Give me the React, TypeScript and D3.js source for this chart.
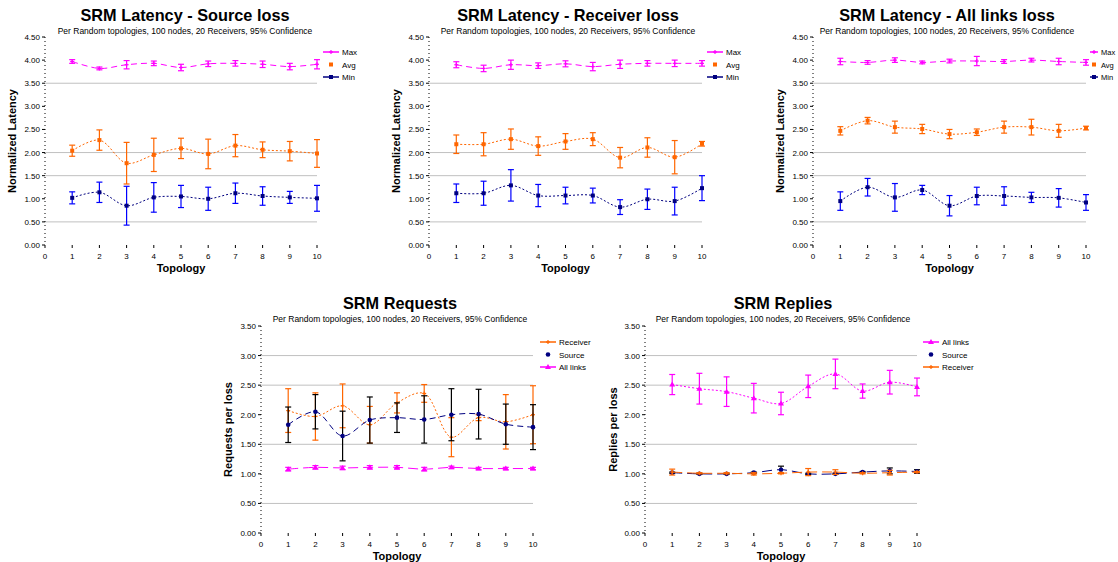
import React from 'react';
import * as d3 from 'd3';

// ---- shared ----
const topologies = [1, 2, 3, 4, 5, 6, 7, 8, 9, 10];
const xTickValues = [0, 1, 2, 3, 4, 5, 6, 7, 8, 9, 10];
const subtitleText = 'Per Random topologies, 100 nodes, 20 Receivers, 95% Confidence';

// ---- latency charts (y 0..4.5) ----
const latencyTicks = [0, 0.5, 1, 1.5, 2, 2.5, 3, 3.5, 4, 4.5];
const latencyGrid = [0.5, 1.5, 2, 3.5];
const latencyLegend = ['Max', 'Avg', 'Min'];

const srcMax = [3.97, 3.82, 3.9, 3.93, 3.84, 3.92, 3.93, 3.91, 3.86, 3.91];
const srcMaxErr = [0.04, 0.03, 0.09, 0.05, 0.07, 0.06, 0.06, 0.07, 0.07, 0.1];
const srcAvg = [2.04, 2.27, 1.77, 1.95, 2.09, 1.97, 2.15, 2.06, 2.03, 1.98];
const srcAvgErr = [0.12, 0.22, 0.45, 0.36, 0.22, 0.32, 0.24, 0.17, 0.21, 0.3];
const srcMin = [1.02, 1.14, 0.85, 1.03, 1.05, 1.0, 1.12, 1.06, 1.03, 1.01];
const srcMinErr = [0.13, 0.22, 0.42, 0.32, 0.24, 0.25, 0.22, 0.2, 0.13, 0.28];

const rcvMax = [3.9, 3.82, 3.9, 3.88, 3.92, 3.86, 3.91, 3.93, 3.93, 3.93];
const rcvMaxErr = [0.065, 0.07, 0.1, 0.06, 0.065, 0.09, 0.09, 0.06, 0.07, 0.06];
const rcvAvg = [2.18, 2.18, 2.29, 2.14, 2.24, 2.29, 1.89, 2.11, 1.9, 2.19];
const rcvAvgErr = [0.2, 0.25, 0.22, 0.2, 0.17, 0.14, 0.22, 0.21, 0.36, 0.05];
const rcvMin = [1.12, 1.12, 1.29, 1.07, 1.07, 1.07, 0.82, 0.99, 0.95, 1.23];
const rcvMinErr = [0.2, 0.26, 0.34, 0.24, 0.18, 0.16, 0.16, 0.22, 0.3, 0.27];

const allMax = [3.97, 3.95, 4.0, 3.95, 3.98, 3.98, 3.97, 4.0, 3.97, 3.95];
const allMaxErr = [0.07, 0.04, 0.05, 0.03, 0.04, 0.1, 0.04, 0.04, 0.07, 0.06];
const allAvg = [2.47, 2.69, 2.55, 2.51, 2.4, 2.44, 2.55, 2.55, 2.47, 2.53];
const allAvgErr = [0.09, 0.07, 0.13, 0.1, 0.1, 0.07, 0.13, 0.17, 0.14, 0.04];
const allMin = [0.95, 1.25, 1.03, 1.19, 0.85, 1.06, 1.06, 1.03, 1.02, 0.92];
const allMinErr = [0.2, 0.19, 0.3, 0.1, 0.22, 0.19, 0.2, 0.11, 0.2, 0.17];

// ---- per-loss charts (y 0..3.5) ----
const perLossTicks = [0, 0.5, 1, 1.5, 2, 2.5, 3, 3.5];
const perLossGrid = [0.5, 1.5, 2.5, 3];

const reqReceiver = [2.07, 1.97, 2.15, 1.83, 2.2, 2.36, 1.62, 1.95, 1.88, 2.0];
const reqReceiverErr = [0.37, 0.4, 0.37, 0.31, 0.17, 0.15, 0.33, 0.05, 0.46, 0.49];
const reqSource = [1.83, 2.05, 1.64, 1.91, 1.95, 1.92, 2.0, 2.01, 1.84, 1.79];
const reqSourceErr = [0.3, 0.29, 0.42, 0.39, 0.25, 0.4, 0.44, 0.42, 0.34, 0.38];
const reqAll = [1.08, 1.11, 1.1, 1.11, 1.11, 1.08, 1.11, 1.09, 1.09, 1.09];
const reqAllErr = [0.03, 0.03, 0.03, 0.03, 0.03, 0.03, 0.02, 0.02, 0.02, 0.02];

const repAll = [2.51, 2.44, 2.39, 2.28, 2.19, 2.48, 2.69, 2.4, 2.55, 2.47];
const repAllErr = [0.17, 0.26, 0.25, 0.25, 0.19, 0.19, 0.25, 0.12, 0.2, 0.15];
const repSource = [1.02, 1.0, 1.0, 1.02, 1.07, 1.0, 1.0, 1.03, 1.05, 1.04];
const repSourceErr = [0.01, 0.01, 0.01, 0.01, 0.06, 0.01, 0.01, 0.01, 0.05, 0.03];
const repReceiver = [1.03, 1.01, 1.01, 1.0, 1.01, 1.03, 1.03, 1.01, 1.02, 1.03];
const repReceiverErr = [0.05, 0.01, 0.01, 0.02, 0.01, 0.06, 0.04, 0.01, 0.04, 0.01];

const MAGENTA = '#ff00ff';
const ORANGE = '#ff6600';
const NAVY = '#000080';
const BLUE = '#0000ff';

type Marker = 'plus' | 'square' | 'circle' | 'triangle';

interface Series {
  name: string;
  values: number[];
  errs: number[];
  color: string;
  errColor: string;
  dash: string;
  marker: Marker;
  legendLine: boolean;
}

interface ChartProps {
  title: string;
  yTitle: string;
  left: number;
  right: number;
  top: number;
  bottom: number;
  yMax: number;
  ticks: number[];
  grid: number[];
  series: Series[];
  legendOrder: string[];
  legendX: number;
  legendY: number;
  legendLen?: number;
  legendFont?: number;
  titleX: number;
  titleY: number;
  yTitleX: number;
}

const font = 'Arial, "Liberation Sans", sans-serif';

const MarkerShape = ({ type, x, y, color }: { type: Marker; x: number; y: number; color: string }) => {
  if (type === 'square') return <rect x={x - 2} y={y - 2} width={4} height={4} fill={color} />;
  if (type === 'circle') return <circle cx={x} cy={y} r={2.3} fill={color} />;
  if (type === 'triangle') {
    return <path d={`M${x},${y - 3}L${x + 3},${y + 2}L${x - 3},${y + 2}Z`} fill={color} />;
  }
  return (
    <g stroke={color} strokeWidth={1.2}>
      <line x1={x - 2} x2={x + 2} y1={y} y2={y} />
      <line x1={x} x2={x} y1={y - 2} y2={y + 2} />
    </g>
  );
};

const Chart = (p: ChartProps) => {
  const x = d3.scaleLinear().domain([0, 10]).range([p.left, p.right]);
  const y = d3.scaleLinear().domain([0, p.yMax]).range([p.bottom, p.top]);
  const fmt = d3.format('.2f');
  const line = d3
    .line<number>()
    .x((_, i) => x(topologies[i]))
    .y((d) => y(d))
    .curve(d3.curveCatmullRom.alpha(0.5));
  const legendLen = p.legendLen ?? 16;

  return (
    <g fontFamily={font}>
      <text x={p.titleX} y={p.titleY} textAnchor="middle" fontSize={16.3} fontWeight="bold">
        {p.title}
      </text>
      <text x={p.titleX} y={p.titleY + 13} textAnchor="middle" fontSize={8.5}>
        {subtitleText}
      </text>

      {p.grid.map((g) => (
        <line key={g} x1={p.left} x2={p.right} y1={y(g)} y2={y(g)} stroke="#c0c0c0" />
      ))}

      <line x1={p.left} x2={p.left} y1={p.top} y2={p.bottom} stroke="#000" strokeDasharray="1,3" />
      {p.ticks.map((t) => (
        <g key={t}>
          <line x1={p.left - 3} x2={p.left} y1={y(t)} y2={y(t)} stroke="#000" />
          <text x={p.left - 5} y={y(t) + 3} textAnchor="end" fontSize={8}>
            {fmt(t)}
          </text>
        </g>
      ))}
      {xTickValues.map((t) => (
        <g key={t}>
          <line x1={x(t)} x2={x(t)} y1={p.bottom} y2={p.bottom + 3} stroke="#000" />
          <text x={x(t)} y={p.bottom + 14} textAnchor="middle" fontSize={8}>
            {t}
          </text>
        </g>
      ))}
      <text
        x={(p.left + p.right) / 2}
        y={p.bottom + 27}
        textAnchor="middle"
        fontSize={11}
        fontWeight="bold"
      >
        Topology
      </text>
      <text
        transform={`translate(${p.yTitleX},${(p.top + p.bottom) / 2}) rotate(-90)`}
        textAnchor="middle"
        fontSize={11}
        fontWeight="bold"
      >
        {p.yTitle}
      </text>

      {p.series.map((s) => (
        <g key={s.name}>
          <path d={line(s.values) || ''} fill="none" stroke={s.color} strokeWidth={1} strokeDasharray={s.dash} />
          {s.values.map((v, i) => (
            <g key={i} stroke={s.errColor} strokeWidth={1.2}>
              <line x1={x(topologies[i])} x2={x(topologies[i])} y1={y(v - s.errs[i])} y2={y(v + s.errs[i])} />
              <line x1={x(topologies[i]) - 3} x2={x(topologies[i]) + 3} y1={y(v - s.errs[i])} y2={y(v - s.errs[i])} />
              <line x1={x(topologies[i]) - 3} x2={x(topologies[i]) + 3} y1={y(v + s.errs[i])} y2={y(v + s.errs[i])} />
            </g>
          ))}
          {s.values.map((v, i) => (
            <MarkerShape key={i} type={s.marker} x={x(topologies[i])} y={y(v)} color={s.color} />
          ))}
        </g>
      ))}

      {p.legendOrder.map((name, i) => {
        const s = p.series.find((d) => d.name === name)!;
        const ly = p.legendY + i * 12.5;
        return (
          <g key={name}>
            {s.legendLine && (
              <line x1={p.legendX} x2={p.legendX + legendLen} y1={ly} y2={ly} stroke={s.color} strokeWidth={1.5} />
            )}
            <MarkerShape type={s.marker} x={p.legendX + legendLen / 2} y={ly} color={s.color} />
            <text x={p.legendX + legendLen + 3} y={ly + 3} fontSize={p.legendFont ?? 8}>
              {name}
            </text>
          </g>
        );
      })}
    </g>
  );
};

const latencySeries = (max: number[], maxErr: number[], avg: number[], avgErr: number[], min: number[], minErr: number[]): Series[] => [
  { name: 'Max', values: max, errs: maxErr, color: MAGENTA, errColor: MAGENTA, dash: '6,4', marker: 'plus', legendLine: true },
  { name: 'Avg', values: avg, errs: avgErr, color: ORANGE, errColor: ORANGE, dash: '2,2', marker: 'square', legendLine: false },
  { name: 'Min', values: min, errs: minErr, color: NAVY, errColor: BLUE, dash: '2,2', marker: 'square', legendLine: true },
];

const App = () => {
  const topCommon = {
    top: 37,
    bottom: 245,
    yMax: 4.5,
    ticks: latencyTicks,
    grid: latencyGrid,
    legendOrder: latencyLegend,
    legendY: 52,
    titleY: 21,
    yTitle: 'Normalized Latency',
  };
  const botCommon = {
    top: 326,
    bottom: 533,
    yMax: 3.5,
    ticks: perLossTicks,
    grid: perLossGrid,
    legendY: 342,
    titleY: 309,
  };

  return (
    <svg width={1118} height={562} style={{ position: 'absolute', left: 0, top: 0, background: '#fff' }}>
      <Chart
        {...topCommon}
        title="SRM Latency - Source loss"
        left={45}
        right={317}
        titleX={185}
        legendX={323}
        yTitleX={16}
        series={latencySeries(srcMax, srcMaxErr, srcAvg, srcAvgErr, srcMin, srcMinErr)}
      />
      <Chart
        {...topCommon}
        title="SRM Latency - Receiver loss"
        left={429}
        right={702}
        titleX={568}
        legendX={707}
        yTitleX={400}
        series={latencySeries(rcvMax, rcvMaxErr, rcvAvg, rcvAvgErr, rcvMin, rcvMinErr)}
      />
      <Chart
        {...topCommon}
        title="SRM Latency - All links loss"
        left={813}
        right={1086}
        titleX={947}
        legendX={1090}
        legendLen={8}
        legendFont={7.5}
        yTitleX={784}
        series={latencySeries(allMax, allMaxErr, allAvg, allAvgErr, allMin, allMinErr)}
      />
      <Chart
        {...botCommon}
        title="SRM Requests"
        yTitle="Requests per loss"
        left={261}
        right={533}
        titleX={400}
        legendX={540}
        yTitleX={232}
        legendOrder={['Receiver', 'Source', 'All links']}
        series={[
          { name: 'Receiver', values: reqReceiver, errs: reqReceiverErr, color: ORANGE, errColor: ORANGE, dash: '2,2', marker: 'plus', legendLine: true },
          { name: 'Source', values: reqSource, errs: reqSourceErr, color: NAVY, errColor: '#000', dash: '6,4', marker: 'circle', legendLine: false },
          { name: 'All links', values: reqAll, errs: reqAllErr, color: MAGENTA, errColor: MAGENTA, dash: '10,5', marker: 'triangle', legendLine: true },
        ]}
      />
      <Chart
        {...botCommon}
        title="SRM Replies"
        yTitle="Replies per loss"
        left={645}
        right={917}
        titleX={783}
        legendX={923}
        yTitleX={617}
        legendOrder={['All links', 'Source', 'Receiver']}
        series={[
          { name: 'All links', values: repAll, errs: repAllErr, color: MAGENTA, errColor: MAGENTA, dash: '2,2', marker: 'triangle', legendLine: true },
          { name: 'Source', values: repSource, errs: repSourceErr, color: NAVY, errColor: '#000', dash: '10,5', marker: 'circle', legendLine: false },
          { name: 'Receiver', values: repReceiver, errs: repReceiverErr, color: ORANGE, errColor: ORANGE, dash: '10,5', marker: 'plus', legendLine: true },
        ]}
      />
    </svg>
  );
};

export default App;
